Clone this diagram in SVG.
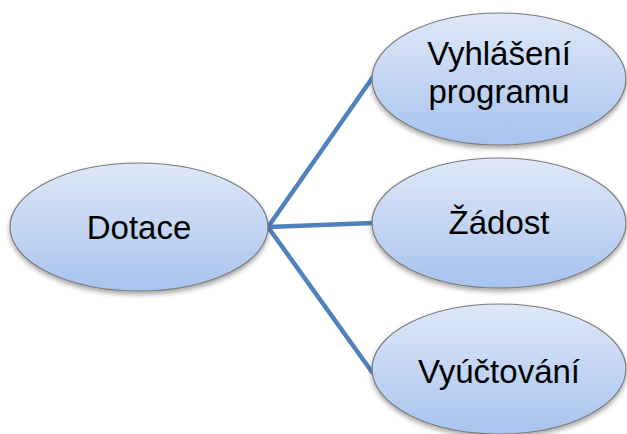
<svg xmlns="http://www.w3.org/2000/svg" width="627" height="434" viewBox="0 0 627 434">
<defs>
<linearGradient id="g" x1="0" y1="0" x2="0" y2="1">
<stop offset="0" stop-color="#DFE8F8"/>
<stop offset="1" stop-color="#A8C3EE"/>
</linearGradient>
<filter id="sh" x="-20%" y="-20%" width="140%" height="150%">
<feGaussianBlur in="SourceAlpha" stdDeviation="2.5"/>
<feOffset dx="0" dy="3" result="b"/>
<feComponentTransfer><feFuncA type="linear" slope="0.35"/></feComponentTransfer>
<feMerge><feMergeNode/><feMergeNode in="SourceGraphic"/></feMerge>
</filter>
</defs>
<style>
.n ellipse{fill:url(#g);stroke:#7A7A7A;stroke-width:1.2;filter:url(#sh)}
.n text{font-family:"Liberation Sans",Arial,sans-serif;font-size:33px;fill:#000;text-anchor:middle}
.c line{stroke:#4F81BD;stroke-width:4.5;stroke-linecap:round}
</style>
<rect width="627" height="434" fill="#fff"/>
<g id="connectors" class="c">
<line x1="268" y1="227" x2="373" y2="77"/>
<line x1="268" y1="227" x2="373" y2="223"/>
<line x1="268" y1="227" x2="372" y2="372"/>
</g>
<g id="dotace" class="n">
<ellipse cx="139" cy="227" rx="129" ry="64"/>
<text x="139" y="239">Dotace</text>
</g>
<g id="vyhlaseni" class="n">
<ellipse cx="499" cy="79" rx="127" ry="66"/>
<text x="499" y="65">Vyhlášení</text>
<text x="499" y="103">programu</text>
</g>
<g id="zadost" class="n">
<ellipse cx="499" cy="223" rx="127" ry="65"/>
<text x="499" y="234">Žádost</text>
</g>
<g id="vyuctovani" class="n">
<ellipse cx="499" cy="369" rx="127" ry="65"/>
<text x="499" y="383">Vyúčtování</text>
</g>
</svg>
